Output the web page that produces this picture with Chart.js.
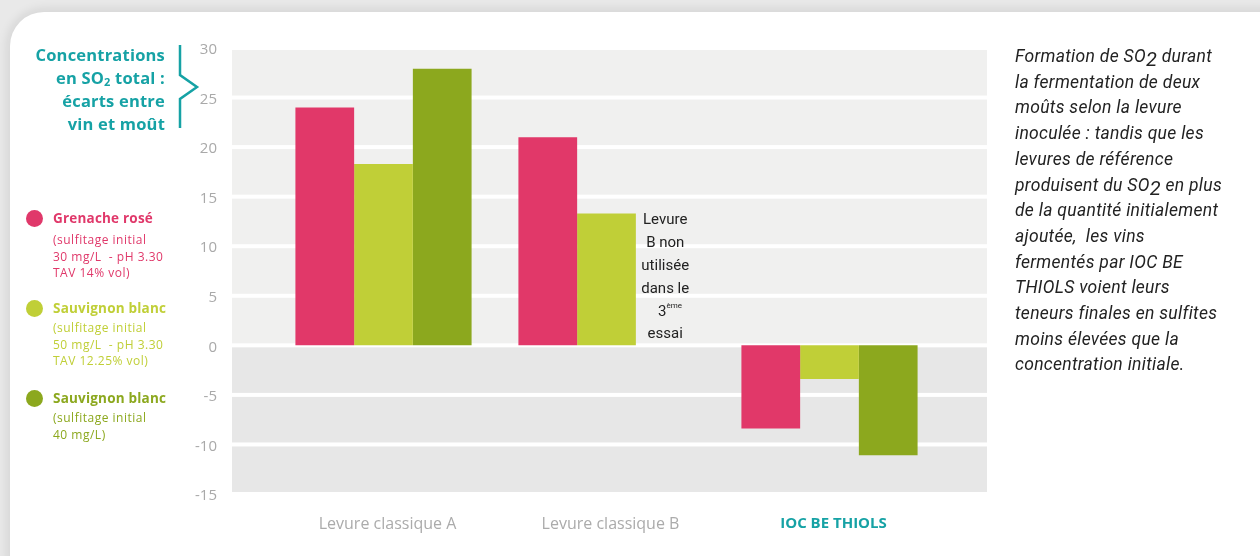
<!DOCTYPE html>
<html lang="fr">
<head>
    <meta charset="UTF-8">
    <title>Formation de SO2 selon la levure</title>
    <script src="https://cdn.jsdelivr.net/npm/chart.js"></script>
    <style>
        body {
            margin: 0;
            width: 1260px;
            height: 556px;
            overflow: hidden;
            background: #e9e9e9;
            position: relative;
            font-family: "Open Sans", sans-serif;
        }
        #card {
            position: absolute;
            left: 10px;
            top: 12px;
            width: 1300px;
            height: 580px;
            background: #fff;
            border-radius: 34px 0 0 34px;
            box-shadow: 0 0 10px 4px rgba(0,0,0,0.08);
        }
        #wrap {
            position: absolute;
            left: 0;
            top: 0;
            width: 1260px;
            height: 556px;
        }
        #title {
            position: absolute;
            right: 1095px;
            top: 43px;
            text-align: right;
            color: #16a2a5;
            font-weight: 700;
            font-size: 16.5px;
            line-height: 23px;
            letter-spacing: 0.2px;
        }
        #title sub { font-size: 11px; vertical-align: -2px; line-height: 0; }
        #brace { position: absolute; left: 170px; top: 40px; }
        .leg {
            position: absolute;
            left: 26px;
        }
        .leg .dot {
            position: absolute;
            left: 0;
            top: 0;
            width: 17px;
            height: 17px;
            border-radius: 50%;
        }
        .leg .name { margin-left: 27px; font-weight: 700; font-size: 13.5px; line-height: 17px; letter-spacing: 0.2px; }
        .leg .sub { margin-left: 27px; font-size: 12px; line-height: 16.5px; margin-top: 3px; letter-spacing: 0.5px; }
        #note {
            position: absolute;
            left: 1015px;
            top: 44px;
            width: 245px;
            font-family: Roboto, sans-serif;
            font-style: italic;
            font-size: 17.5px;
            line-height: 25.7px;
            letter-spacing: 0.3px;
            color: #222;
            white-space: nowrap;
        }
        #note sub { font-size: 20px; vertical-align: -4px; line-height: 0; }
    </style>
</head>
<body>
<div id="card"></div>
<div id="wrap"><canvas id="myChart" width="1260" height="556"></canvas></div>

<div id="title">Concentrations<br>en SO<sub>2</sub> total :<br>écarts entre<br>vin et moût</div>
<svg id="brace" width="40" height="100">
    <polyline points="10,5 10,35 27,47 10,59 10,88" fill="none" stroke="#16a2a5" stroke-width="2.5"/>
</svg>

<div class="leg" style="top:210px;color:#e0386a">
    <div class="dot" style="background:#e0386a"></div>
    <div class="name">Grenache rosé</div>
    <div class="sub" style="margin-top:5px">(sulfitage initial<br>30 mg/L&nbsp; - pH 3.30<br>TAV 14% vol)</div>
</div>
<div class="leg" style="top:300px;color:#c0cf37">
    <div class="dot" style="background:#c0cf37"></div>
    <div class="name">Sauvignon blanc</div>
    <div class="sub">(sulfitage initial<br>50 mg/L&nbsp; - pH 3.30<br>TAV 12.25% vol)</div>
</div>
<div class="leg" style="top:390px;color:#8ca81e">
    <div class="dot" style="background:#8ca81e"></div>
    <div class="name">Sauvignon blanc</div>
    <div class="sub">(sulfitage initial<br>40 mg/L)</div>
</div>

<div id="note">Formation de SO<sub>2</sub> durant<br>la fermentation de deux<br>moûts selon la levure<br>inoculée : tandis que les<br>levures de référence<br>produisent du SO<sub>2</sub> en plus<br>de la quantité initialement<br>ajoutée,&nbsp; les vins<br>fermentés par IOC BE<br>THIOLS voient leurs<br>teneurs finales en sulfites<br>moins élevées que la<br>concentration initiale.</div>

<script>
    // data
    const categories = ['Levure classique A', 'Levure classique B', 'IOC BE THIOLS'];
    const grenache = [24, 21, -8.4];
    const sauvignon50 = [18.3, 13.3, -3.4];
    const sauvignon40 = [27.9, null, -11.1];
    const seriesNames = ['Grenache rosé', 'Sauvignon blanc (50 mg/L)', 'Sauvignon blanc (40 mg/L)'];
    const yTicks = [-15, -10, -5, 0, 5, 10, 15, 20, 25, 30];
    const noteLines = ['Levure', 'B non', 'utilisée', 'dans le', '3', 'essai'];

    const PINK = '#e13869', LIGHT = '#c0cf37', DARK = '#8ca81e', TEAL = '#16a2a5';

    // grey bands with white gaps behind the bars
    const bandsPlugin = {
        id: 'bands',
        beforeDatasetsDraw(chart) {
            const ctx = chart.ctx, y = chart.scales.y, a = chart.chartArea;
            const left = a.left - 40, right = a.right + 46;
            ctx.save();
            for (let i = 0; i < yTicks.length - 1; i++) {
                const top = y.getPixelForValue(yTicks[i + 1]);
                const bot = y.getPixelForValue(yTicks[i]);
                ctx.fillStyle = yTicks[i] >= 0 ? '#f0f0ef' : '#e7e7e7';
                ctx.fillRect(left, top + 2, right - left, bot - top - 4);
            }
            ctx.restore();
        }
    };

    // text in the empty slot of the third series, group B
    const notePlugin = {
        id: 'note',
        afterDatasetsDraw(chart) {
            const ctx = chart.ctx, y = chart.scales.y;
            const el = chart.getDatasetMeta(1).data[1];
            const x = el.x + el.width;
            let yy = y.getPixelForValue(12.6);
            ctx.save();
            ctx.fillStyle = '#222';
            ctx.font = '15px Roboto';
            ctx.textAlign = 'center';
            ctx.textBaseline = 'middle';
            noteLines.forEach(line => {
                if (line === '3') {
                    ctx.fillText('3', x - 3, yy + 1);
                    ctx.font = '8px Roboto';
                    ctx.fillText('ème', x + 9, yy - 6);
                    ctx.font = '15px Roboto';
                } else {
                    ctx.fillText(line, x, yy);
                }
                yy += 22.8;
            });
            ctx.restore();
        }
    };

    const ctx = document.getElementById('myChart').getContext('2d');
    new Chart(ctx, {
        type: 'bar',
        data: {
            labels: categories,
            datasets: [
                { label: seriesNames[0], data: grenache, backgroundColor: PINK },
                { label: seriesNames[1], data: sauvignon50, backgroundColor: LIGHT },
                { label: seriesNames[2], data: sauvignon40, backgroundColor: DARK }
            ]
        },
        options: {
            responsive: false,
            animation: false,
            layout: { autoPadding: false, padding: { left: 0, right: 319, top: 48, bottom: 0 } },
            datasets: { bar: { barPercentage: 1, categoryPercentage: 0.79 } },
            scales: {
                x: {
                    grid: { display: false, drawTicks: false },
                    border: { display: false },
                    afterFit: s => { s.height = 62; },
                    ticks: {
                        padding: 21,
                        labelOffset: 4,
                        color: c => c.index === 2 ? TEAL : '#ababab',
                        font: c => c.index === 2
                            ? { family: 'Open Sans', size: 15, weight: 'bold' }
                            : { family: 'Open Sans', size: 16 }
                    }
                },
                y: {
                    min: -15,
                    max: 30,
                    grid: { display: false, drawTicks: false },
                    border: { display: false },
                    afterFit: s => { s.width = 272; s.paddingTop = 0; s.paddingBottom = 0; },
                    afterBuildTicks: s => { s.ticks = yTicks.map(v => ({ value: v })); },
                    ticks: {
                        padding: 55,
                        labelOffset: 2,
                        color: '#a9a9a9',
                        font: { family: 'Open Sans', size: 15 }
                    }
                }
            },
            plugins: {
                legend: { display: false },
                tooltip: { enabled: false }
            }
        },
        plugins: [bandsPlugin, notePlugin]
    });
</script>
</body>
</html>
